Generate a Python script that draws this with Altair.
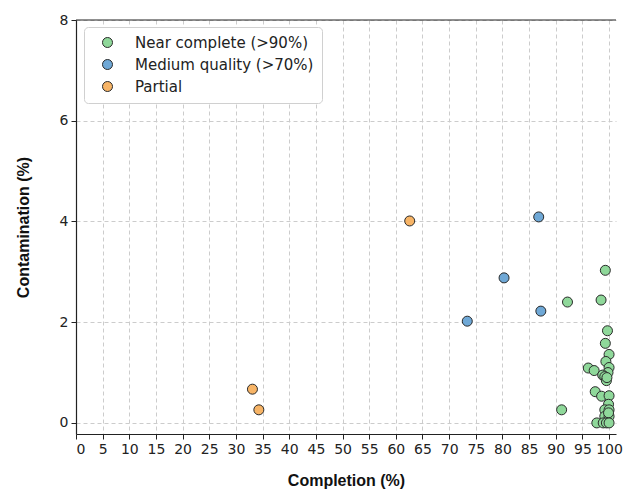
import altair as alt
import pandas as pd

categories = ["Near complete (>90%)", "Medium quality (>70%)", "Partial"]
colors = ["#8fd89a", "#6fa8d6", "#f7b466"]

near_x = [99.3, 98.5, 92.2, 91.1, 99.7, 99.3, 100.0, 99.4, 96.1, 97.2, 100.0, 99.8, 98.8, 99.2,
          99.5, 99.6, 97.4, 98.6, 100.0, 99.9, 99.2, 100.0, 99.2, 100.0, 99.9, 97.7, 98.9, 99.5, 100.0]
near_y = [3.03, 2.44, 2.40, 0.26, 1.83, 1.58, 1.36, 1.22, 1.09, 1.04, 1.10, 1.00, 0.95, 0.92,
          0.84, 0.90, 0.62, 0.53, 0.54, 0.37, 0.26, 0.26, 0.13, 0.13, 0.20, 0.0, 0.0, 0.0, 0.0]
med_x = [86.8, 80.3, 87.2, 73.4]
med_y = [4.09, 2.88, 2.22, 2.02]
part_x = [62.6, 33.1, 34.3]
part_y = [4.01, 0.67, 0.26]

x_ticks = list(range(0, 101, 5))
y_ticks = [0, 2, 4, 6, 8]

rows = []
for xs, ys, c in [(near_x, near_y, categories[0]), (med_x, med_y, categories[1]), (part_x, part_y, categories[2])]:
    for a, b in zip(xs, ys):
        rows.append({"Completion": a, "Contamination": b, "Quality": c})
df = pd.DataFrame(rows)

x_scale = alt.Scale(domain=[0, 101.3], nice=False, zero=False)
y_scale = alt.Scale(domain=[-0.22, 8], nice=False, zero=False)

points = alt.Chart(df).mark_circle(size=100, opacity=1, stroke="#2a2a2a", strokeWidth=1).encode(
    x=alt.X("Completion:Q", scale=x_scale,
            axis=alt.Axis(values=x_ticks, title="Completion (%)", grid=True, gridDash=[4, 3],
                          gridColor="#cccccc", titlePadding=16)),
    y=alt.Y("Contamination:Q", scale=y_scale,
            axis=alt.Axis(values=y_ticks, title="Contamination (%)", grid=True, gridDash=[4, 3],
                          gridColor="#cccccc", titlePadding=28)),
    color=alt.Color("Quality:N", scale=alt.Scale(domain=categories, range=colors),
                    legend=alt.Legend(title=None, orient="none", legendX=8, legendY=7,
                                      symbolStrokeColor="#2a2a2a", symbolStrokeWidth=1,
                                      symbolSize=100, symbolOpacity=1, labelLimit=0,
                                      labelFontSize=15, labelFont="DejaVu Sans", labelColor="#222222",
                                      rowPadding=6, padding=8, fillColor="white",
                                      strokeColor="#d0d0d0", cornerRadius=4,
                                      symbolOffset=8, labelOffset=20, symbolType="circle")),
)

top_spine = alt.Chart(pd.DataFrame({"y": [8]})).mark_rule(color="#222222", strokeWidth=1.2).encode(
    y=alt.Y("y:Q", scale=y_scale),
    x=alt.value(0), x2=alt.value(540),
)

chart = alt.layer(points, top_spine).properties(
    width=540, height=414,
    padding={"left": 68, "top": 12, "right": 8, "bottom": 60},
    autosize=alt.AutoSizeParams(type="none"),
).configure_view(stroke=None).configure_axis(
    labelFont="DejaVu Sans", labelFontSize=14, labelColor="#222222",
    titleFont="Liberation Sans", titleFontSize=16, titleFontWeight="bold", titleColor="#111111",
    domainColor="#222222", domainWidth=1.2, tickColor="#222222", tickSize=5, labelPadding=3,
)

chart.save("out.html", embed_options={"renderer": "svg", "actions": False})
